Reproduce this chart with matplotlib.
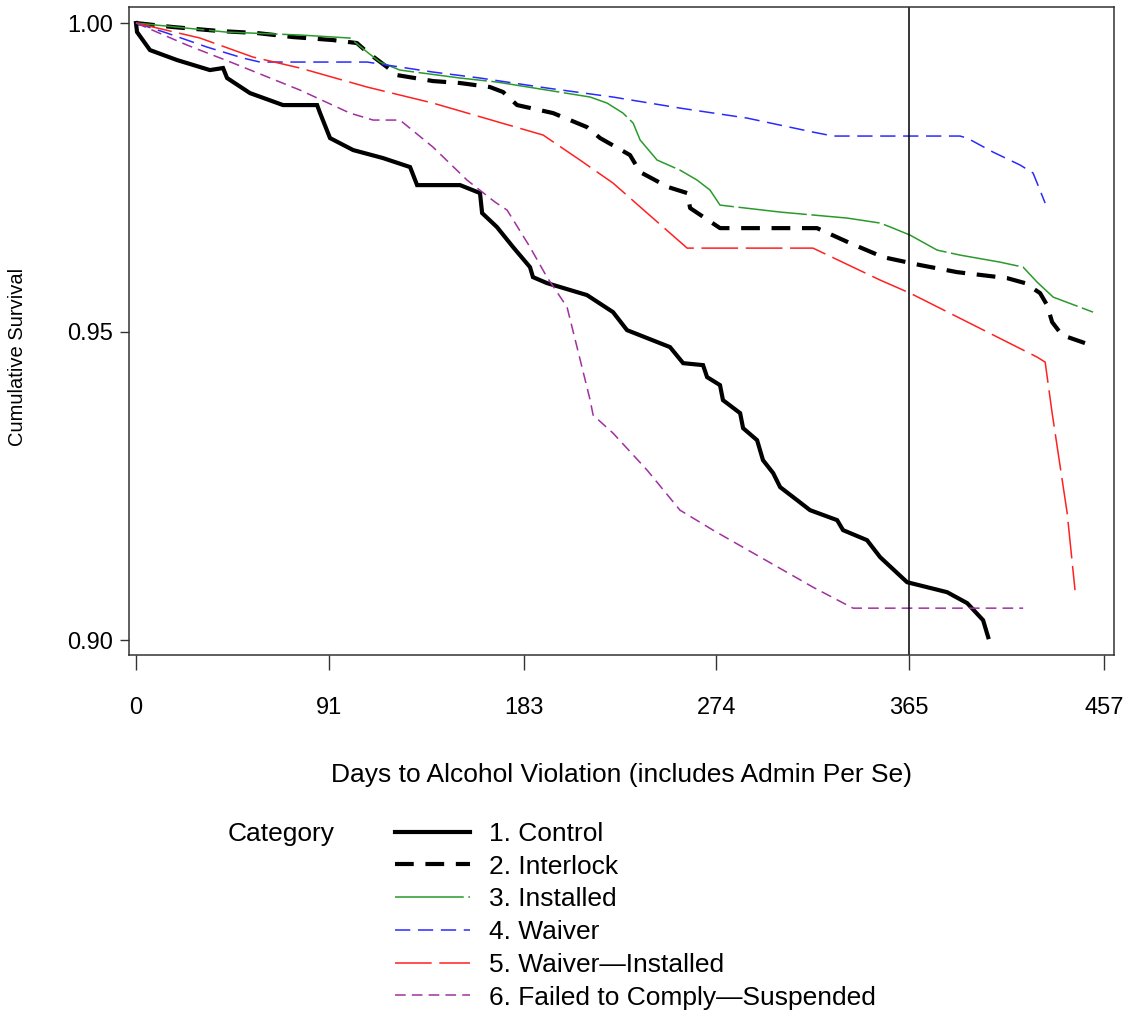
import matplotlib
matplotlib.use('Agg')
import matplotlib.pyplot as plt

plt.rcParams['font.family'] = ['Liberation Sans', 'DejaVu Sans']

# days / cumulative survival
control_x = [0, 0.5, 6.6, 19.4, 34.9, 41.1, 43, 53.8, 69.4, 85.5, 86.9, 91.6, 102.5, 116.6, 129.4,
             132.7, 153, 162.4, 163.4, 170.4, 178, 186, 187.4, 194, 212.9, 225.2, 231.8, 252.1,
             258.3, 267.7, 269.6, 275.7, 277.1, 285.2, 286.6, 293.2, 296, 300.8, 304.1, 312.1,
             318.2, 331, 333.8, 345.1, 351.3, 364, 382.9, 392.4, 399.9, 402.3]
control_y = [1.0, 0.99854, 0.99562, 0.9940, 0.99238, 0.99271, 0.99109, 0.98865, 0.98671, 0.98671,
             0.98541, 0.98136, 0.97942, 0.97812, 0.97666, 0.97374, 0.97374, 0.97245, 0.96921,
             0.96694, 0.9637, 0.96045, 0.95883, 0.95786, 0.95592, 0.95316, 0.95024, 0.94749,
             0.94489, 0.94457, 0.94263, 0.94133, 0.9389, 0.93679, 0.93436, 0.93241, 0.92917,
             0.92707, 0.9248, 0.92269, 0.92107, 0.91945, 0.91783, 0.91621, 0.91345, 0.9094,
             0.90778, 0.906, 0.90324, 0.90049]

interlock_x = [0, 17.5, 39.7, 57.1, 74.1, 93, 104.3, 109.1, 118.5, 123.2, 140.2, 153, 167.1, 173.3,
               179.9, 196.9, 212.9, 219.1, 233.2, 238, 251.2, 260.2, 261.6, 275.7, 321.5, 337.1,
               352.7, 370.2, 387.6, 411.2, 419.7, 426.8, 430.1, 432.5, 437.2, 448]
interlock_y = [1.0, 0.99935, 0.9987, 0.99838, 0.99773, 0.99724, 0.99676, 0.9953, 0.99287, 0.99157,
               0.9906, 0.99028, 0.98963, 0.98882, 0.98671, 0.98541, 0.98314, 0.98136, 0.97861,
               0.97585, 0.97342, 0.97245, 0.97002, 0.96677, 0.96677, 0.96434, 0.96207, 0.96078,
               0.95964, 0.95867, 0.95786, 0.95624, 0.9543, 0.95154, 0.94943, 0.94814]

installed_x = [0, 42.5, 77.4, 101, 109.1, 115.2, 124.6, 153, 170.4, 194, 214.4, 222.4, 229.9, 234.7,
               238, 246, 256.8, 264.9, 271, 275.7, 304.1, 335.7, 351.3, 357.4, 365.4, 378.2, 389,
               407.9, 418.8, 425.4, 433, 451.8]
installed_y = [1.0, 0.99854, 0.99806, 0.99757, 0.9953, 0.99368, 0.99238, 0.99109, 0.99044, 0.98914,
               0.98801, 0.98703, 0.98541, 0.98379, 0.98104, 0.9778, 0.97617, 0.97455, 0.97293,
               0.9705, 0.96937, 0.9684, 0.96759, 0.96677, 0.96564, 0.96321, 0.9624, 0.96126,
               0.96045, 0.95802, 0.95559, 0.95316]

waiver_x = [0, 14.6, 33.5, 50.5, 58.5, 109.1, 124.6, 140.2, 162.4, 194, 225.2, 256.8, 288.5, 319.6,
            329.1, 389, 392.4, 404.6, 417.4, 423.5, 429.2]
waiver_y = [1.0, 0.99838, 0.99611, 0.99433, 0.99368, 0.99368, 0.99287, 0.99206, 0.99109, 0.98947,
            0.98801, 0.98622, 0.9846, 0.98233, 0.98169, 0.98169, 0.98136, 0.97909, 0.97699,
            0.97569, 0.97083]

waiv_inst_x = [0, 30.2, 55.2, 77.4, 109.1, 140.2, 192.2, 209.6, 225.2, 241.3, 260.2, 319.6, 351.3,
               365.4, 425.4, 429.2, 432.5, 439.6, 443.3]
waiv_inst_y = [1.0, 0.99757, 0.99449, 0.99271, 0.98963, 0.98703, 0.98185, 0.9778, 0.97407, 0.96921,
               0.96353, 0.96353, 0.95835, 0.95624, 0.94587, 0.94506, 0.93679, 0.92058, 0.9081]

failed_x = [0, 24.1, 45.8, 77.4, 101, 111.9, 124.6, 140.2, 156.3, 169.5, 175.2, 186, 194, 203.5,
            208.2, 214.4, 215.8, 225.2, 241.3, 256.8, 272.4, 319.6, 338.5, 418.8]
failed_y = [1.0, 0.99643, 0.99352, 0.98914, 0.98541, 0.98428, 0.98428, 0.9799, 0.97455, 0.97099,
            0.96969, 0.9637, 0.95883, 0.95397, 0.94749, 0.9389, 0.93647, 0.93355, 0.92755,
            0.92107, 0.91783, 0.90859, 0.90519, 0.90519]

labels = ['1. Control', '2. Interlock', '3. Installed', '4. Waiver',
          '5. Waiver\u2014Installed', '6. Failed to Comply\u2014Suspended']
xticks = [0, 91, 183, 274, 365, 457]
yticks = [0.90, 0.95, 1.00]
ytick_labels = ['0.90', '0.95', '1.00']

fig = plt.figure(figsize=(11.28, 10.11), dpi=100)
ax = fig.add_axes([129/1128, 1-655/1011, (1114-129)/1128, (655-7)/1011])

l1, = ax.plot(control_x, control_y, color='black', lw=3.0, solid_joinstyle='miter')
l2, = ax.plot(interlock_x, interlock_y, color='black', lw=3.0, linestyle=(0, (4.5, 2.8)))
l3, = ax.plot(installed_x, installed_y, color='#2a9a2a', lw=1.1, linestyle=(0, (45, 3)))
l4, = ax.plot(waiver_x, waiver_y, color='#2a2aff', lw=1.1, linestyle=(0, (10, 5)))
l5, = ax.plot(waiv_inst_x, waiv_inst_y, color='#ff2020', lw=1.1, linestyle=(0, (24, 5)))
l6, = ax.plot(failed_x, failed_y, color='#a030a0', lw=1.1, linestyle=(0, (7, 4)))

ax.axvline(365, color='black', lw=1.1)

ax.set_xlim(-3.3, 461.7)
ax.set_ylim(0.8976, 1.0026)
ax.set_xticks(xticks)
ax.set_xticklabels([str(t) for t in xticks])
ax.set_yticks(yticks)
ax.set_yticklabels(ytick_labels)
ax.tick_params(axis='x', direction='out', length=11, width=1.0, pad=19, labelsize=17, color='#333333')
ax.tick_params(axis='y', direction='out', length=6.5, width=1.0, pad=5, labelsize=17, color='#333333')
for s in ax.spines.values():
    s.set_linewidth(1.1)
    s.set_color('#333333')

ax.set_xlabel('Days to Alcohol Violation (includes Admin Per Se)', fontsize=19, labelpad=32)
fig.text(18/1128, 1-357/1011, 'Cumulative Survival', rotation=90, fontsize=14.5,
         ha='center', va='center')

fig.text(228/1128, 1-834/1011, 'Category', fontsize=19, ha='left', va='center')
fig.legend([l1, l2, l3, l4, l5, l6], labels, loc='upper left',
           bbox_to_anchor=(395/1128, 1-822/1011), frameon=False, fontsize=19,
           borderaxespad=0, borderpad=0, handlelength=2.84, handletextpad=0.72,
           labelspacing=0.33)

fig.savefig('out.png', dpi=100)
